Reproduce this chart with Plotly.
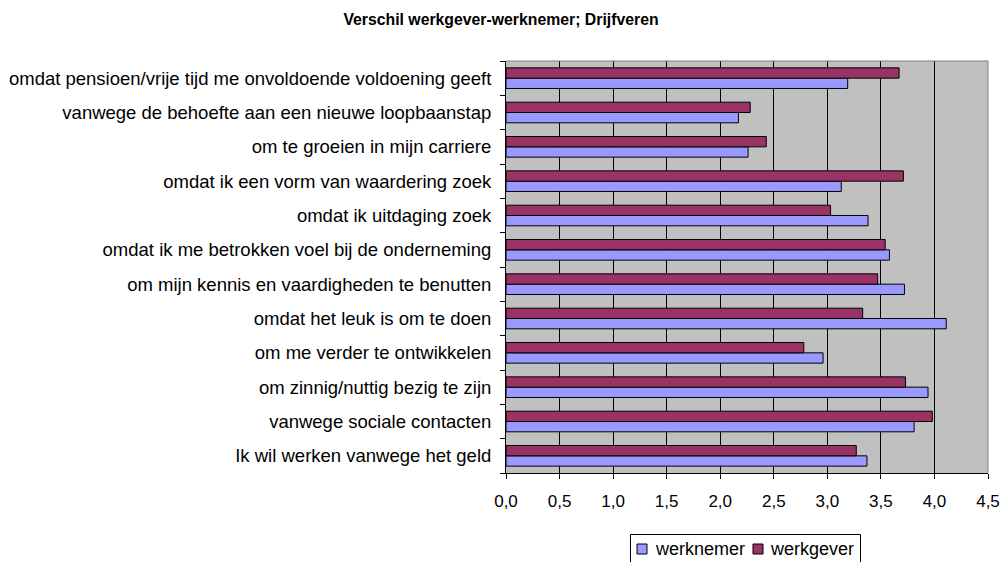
import plotly.graph_objects as go

# categories listed bottom -> top (as they appear on the chart)
categories = [
    "Ik wil werken vanwege het geld",
    "vanwege sociale contacten",
    "om zinnig/nuttig bezig te zijn",
    "om me verder te ontwikkelen",
    "omdat het leuk is om te doen",
    "om mijn kennis en vaardigheden te benutten",
    "omdat ik me betrokken voel bij de onderneming",
    "omdat ik uitdaging zoek",
    "omdat ik een vorm van waardering zoek",
    "om te groeien in mijn carriere",
    "vanwege de behoefte aan een nieuwe loopbaanstap",
    "omdat pensioen/vrije tijd me onvoldoende voldoening geeft",
]
werknemer = [3.37, 3.81, 3.94, 2.96, 4.11, 3.72, 3.58, 3.38, 3.13, 2.26, 2.17, 3.19]
werkgever = [3.27, 3.98, 3.73, 2.78, 3.33, 3.47, 3.54, 3.03, 3.71, 2.43, 2.28, 3.67]

colors = {"werknemer": "#9999FF", "werkgever": "#993366"}

W, H = 1002, 562
L, R, T, B = 506, 14, 61, 89
pw, ph = W - L - R, H - T - B


def px(x):
    # page pixel -> paper x
    return (x - L) / pw


def py(y):
    # page pixel -> paper y
    return (H - B - y) / ph


fig = go.Figure()
fig.add_trace(go.Bar(y=categories, x=werknemer, name="werknemer", orientation="h",
                     marker=dict(color=colors["werknemer"], line=dict(color="black", width=1))))
fig.add_trace(go.Bar(y=categories, x=werkgever, name="werkgever", orientation="h",
                     marker=dict(color=colors["werkgever"], line=dict(color="black", width=1))))

font = "Liberation Sans, Arial, sans-serif"

# plot frame (top / right in grey)
shapes = [dict(type="line", xref="paper", yref="paper", x0=0, x1=1, y0=1, y1=1,
               line=dict(color="#808080", width=1)),
          dict(type="line", xref="paper", yref="paper", x0=1, x1=1, y0=0, y1=1,
               line=dict(color="#808080", width=1))]
annotations = []

# legend drawn by hand (tighter than plotly's own)
shapes.append(dict(type="rect", xref="paper", yref="paper",
                   x0=px(630.5), x1=px(860.5), y0=py(534.5), y1=py(570),
                   line=dict(color="black", width=1), fillcolor="white"))
leg = [("werknemer", 637, 653), ("werkgever", 753, 768)]
for name, sx, tx in leg:
    shapes.append(dict(type="rect", xref="paper", yref="paper",
                       x0=px(sx), x1=px(sx + 10), y0=py(544), y1=py(554),
                       line=dict(color="black", width=1), fillcolor=colors[name]))
    annotations.append(dict(text=name, xref="paper", yref="paper", x=px(tx), y=py(549),
                            xanchor="left", yanchor="middle", showarrow=False,
                            font=dict(size=18, family=font)))

fig.update_layout(
    width=W, height=H,
    margin=dict(l=L, r=R, t=T, b=B),
    paper_bgcolor="white",
    plot_bgcolor="#C0C0C0",
    barmode="group",
    bargap=0.4,
    bargroupgap=0,
    separators=",.",
    showlegend=False,
    font=dict(family=font, size=17, color="black"),
    title=dict(text="<b>Verschil werkgever-werknemer; Drijfveren</b>",
               x=0.5, xanchor="center", y=1 - 19 / H, yanchor="middle",
               font=dict(size=15.8, family=font)),
    xaxis=dict(range=[0, 4.5], dtick=0.5, tickformat=".1f", automargin=False,
               showgrid=True, gridcolor="black", gridwidth=1,
               showline=True, linecolor="black", linewidth=1,
               ticks="outside", ticklen=5, tickcolor="black",
               ticklabelstandoff=8, zeroline=False),
    yaxis=dict(showline=True, linecolor="black", linewidth=1, automargin=False,
               ticks="outside", ticklen=5, tickcolor="black",
               tickson="boundaries", showgrid=False,
               tickfont=dict(size=18.5), ticklabelstandoff=10),
    shapes=shapes,
    annotations=annotations,
)

fig.write_html("out.html", config={"displayModeBar": False},
               post_script="document.body.style.margin='0';document.body.style.overflow='hidden';")
